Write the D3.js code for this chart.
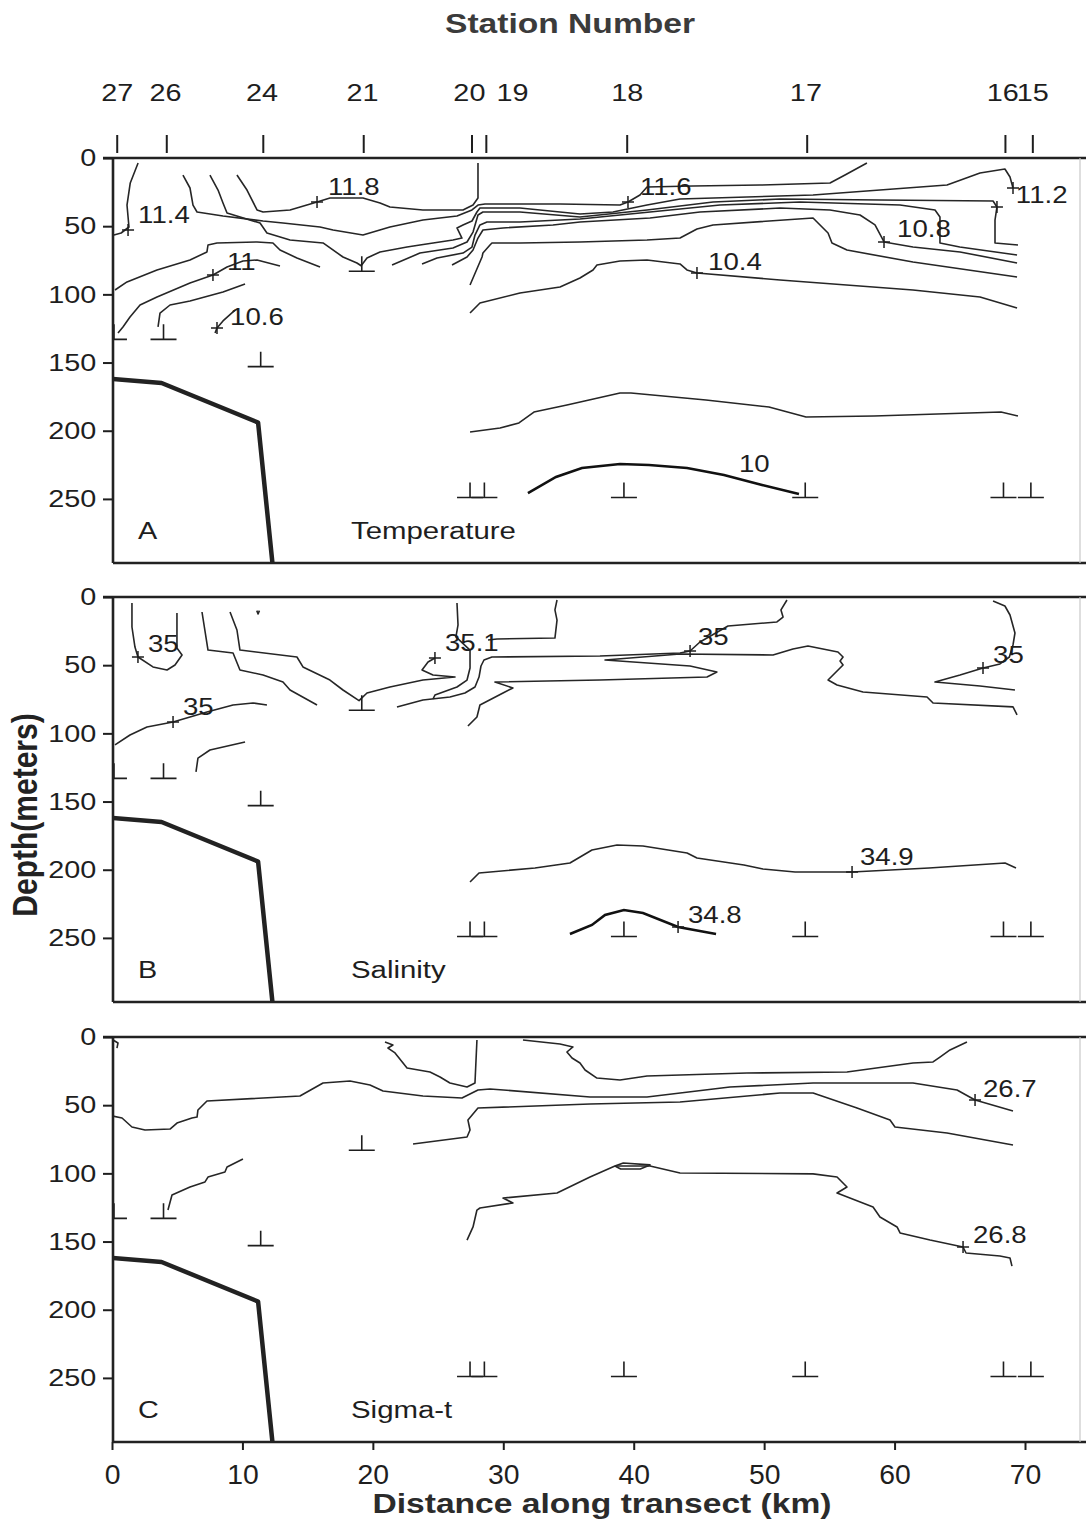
<!DOCTYPE html>
<meta charset="utf-8">

<!-- Load d3.js -->
<script src="https://d3js.org/d3.v7.js"></script>

<style>
  body { margin: 0; background: #fff; }
  text { font-family: "Liberation Sans", Arial, Helvetica, sans-serif; }
</style>

<!-- Create a div where the graph will take place -->
<div id="my_dataviz"></div>

<script>

// stations along the transect
var stationNames   = ["27", "26", "24", "21", "20", "19", "18", "17", "16", "15"];
var stationKm      = [0.15, 3.95, 11.4, 19.15, 27.45, 28.55, 39.25, 53.15, 68.35, 70.45]; // deepest sample
var stationTickKm  = [0.4, 4.2, 11.6, 19.3, 27.6, 28.7, 39.5, 53.3, 68.5, 70.6];          // top ticks
var stationLabelKm = [0.4, 4.1, 11.5, 19.2, 27.4, 30.7, 39.5, 53.2, 68.3, 70.6];
var stationBottom  = [133, 133, 153, 83, 249, 249, 249, 249, 249, 249];

// sea floor (km, depth)
var bathymetry = [[0, 162], [3.8, 165], [11.2, 194], [12.3, 297]];

var depthTicks = [0, 50, 100, 150, 200, 250];
var distTicks  = [0, 10, 20, 30, 40, 50, 60, 70];

// ---- A: temperature contours (km, depth m)
var tempContours = [
  [[2.0,3.7],[1.4,18.3],[1.15,34.5],[1.3,50.6],[0.7,55],[0.15,56.5]],
  [[5.44,12.5],[5.98,22],[6.21,34.5],[6.52,39.6],[8.51,42.5],[11.58,46.2],[13.11,47.7],[15.95,50.6],[16.95,52.8],[19.24,56.5],[21.31,50.6],[23.84,45.5],[26.45,42.5],[27.6,38.1],[28.06,34.5],[28.6,33.7],[31.28,33.7],[34.35,33.7],[38.95,34.5],[39.56,32.3],[40.48,27.1],[41.02,21.3],[44.55,20.5],[49.68,19.8],[55.05,18.3],[56.2,12.5],[57.88,3.7]],
  [[9.58,12.5],[10.35,23.5],[11.12,38.1],[11.58,39.6],[13.65,38.1],[15.72,32.3],[16.71,29.3],[19.24,29.3],[20.55,33],[21.31,35.9],[23.84,38.1],[26.91,38.1],[27.68,34.5],[28.06,29.3],[28.06,3.7]],
  [[7.51,12.5],[8.13,23.5],[8.51,33],[8.82,40.3],[11.35,47.7],[11.88,55],[13.65,60.1],[16.18,62.3],[17.71,72.6],[18.78,77],[19.1,79],[19.55,73.3],[20.55,68.9],[22.62,65.3],[23.61,63.8],[26.14,60.1],[26.83,58.7],[26.45,51.3],[26.91,49.1],[27.6,46.2],[27.98,39.6],[28.21,36.7],[31.28,36.7],[35.88,41.1],[38.41,39.6],[41.02,34.5],[43.55,30.1],[48.68,28.6],[53.75,27.1],[58.88,23.5],[64.02,19.8],[66.55,11],[68.46,8.1],[68.85,13.9],[69.08,22]],
  [[21.47,78.5],[23.61,69.7],[26.14,66],[27.22,61.6],[27.68,54.3],[28.06,41.8],[28.44,39.6],[31.28,39.6],[35.88,43.3],[41.02,38.1],[46.08,32.3],[51.22,30.1],[58.88,30.8],[67.55,31.5],[67.85,35.9],[67.7,45.5],[67.7,62.3],[69.46,63.8]],
  [[23.77,77.7],[24.92,73.3],[26.91,69.7],[27.6,65.3],[27.83,56.5],[28.21,49.1],[28.75,46.9],[31.28,46.9],[35.88,44.7],[41.25,39.6],[46.62,34.5],[52.75,32.3],[60.42,34.5],[63.1,38.1],[63.48,43.3],[63.48,62.3],[65.0,65.3],[69.39,71.1]],
  [[26.07,78.5],[27.22,72.6],[27.68,67.5],[28.06,58.7],[28.44,52.8],[29.98,51.3],[33.81,49.1],[35.88,46.9],[41.25,44],[45.08,39.6],[51.22,36.7],[55.05,38.1],[57.35,41.8],[58.5,49.1],[59.04,58.7],[59.19,61.6],[61.41,65.3],[65.02,68.9],[69.39,77]],
  [[27.45,93.1],[28.37,72.6],[28.44,69.7],[28.98,63.8],[29.13,62.3],[31.28,62.3],[35.88,61.6],[41.02,60.1],[43.55,58.7],[44.85,52.1],[46.08,49.1],[53.75,44],[54.9,55],[55.2,62.3],[56.35,67.5],[61.41,76.3],[69.39,87.3]],
  [[27.45,113.7],[28.21,106.3],[31.28,99],[34.35,94.6],[35.88,88],[36.88,82.1],[37.18,78.5],[38.95,75.5],[41.02,74.8],[43.55,77.7],[44.08,82.1],[44.85,84.3],[51.22,89.5],[61.41,96.8],[66.55,101.9],[69.39,110]],
  [[0.23,96.8],[1.15,90.9],[3.45,82.1],[5.98,74.8],[7.28,68.9],[7.36,63.8],[8.05,62.3],[11.12,61.6],[12.34,62.3],[12.88,67.5],[14.18,73.3],[15.95,79.9]],
  [[0.46,128.3],[0.84,123.9],[1.38,116.6],[2.15,107.8],[3.45,101.9],[5.98,91.7],[7.74,85.8],[8.82,79.9],[10.04,75.5],[11.12,74.8],[12.88,79.2]],
  [[3.53,123.9],[3.68,113.7],[4.45,107.8],[5.98,104.9],[8.51,98.3],[10.2,92.4]],
  [[7.9,128.3],[8.05,124.7],[8.51,119.5],[9.43,111.5]],
  [[27.45,200.9],[29.75,198],[31.2,194.3],[32.35,186.3],[34.88,181.1],[38.95,172.3],[39.79,172.3],[45.54,177.5],[50.37,182.6],[53.21,189.9],[58.42,189.2],[68.16,186.3],[69.46,189.2]]
];
var tempThick = [
  [[31.89,245.7],[34.04,233.9],[36.03,227.3],[38.95,224.4],[41.17,225.1],[44.09,227.3],[46.92,232.5],[49.84,239.8],[52.67,246.4]]
];
var tempLabels = [
  {text: "11.4", km: 2.0, depth: 47.6}, {text: "11.8", km: 16.56, depth: 27.1},
  {text: "11.6", km: 40.48, depth: 27.1}, {text: "11.2", km: 69.3, depth: 33},
  {text: "10.8", km: 60.19, depth: 57.9}, {text: "10.4", km: 45.7, depth: 82.1},
  {text: "11", km: 8.82, depth: 82.1}, {text: "10.6", km: 9.05, depth: 122.5},
  {text: "10", km: 48.07, depth: 230.3}
];
var tempMarks = [[1.23,52.8],[15.72,32.3],[39.56,32.3],[69.08,22],[67.85,35.9],[59.19,61.6],[44.85,84.3],[7.74,85.8],[8.05,124.7]];

// ---- B: salinity contours
var salContours = [
  [[1.53,4.4],[1.53,22],[1.76,36.7],[1.99,44],[3.14,51.3],[4.22,53.5],[4.83,49.9],[5.37,42.5],[4.98,37.4],[4.98,11.7]],
  [[6.9,11],[7.36,38.9],[9.28,41.1],[9.81,53.5],[11.58,57.2],[13.11,62.3],[13.65,68.2],[15.72,79.2]],
  [[9.05,11],[9.58,24.2],[9.81,38.9],[14.18,44],[14.64,51.3],[16.71,60.9],[17.71,68.2],[18.94,76],[19.55,70.4],[21.31,66],[23.84,60.9],[26.3,58.7],[24.61,57.2],[23.77,53.5],[24.23,47.7],[24.76,44.7]],
  [[26.45,4.4],[26.53,20.5],[26.37,29.3],[27.45,38.9],[27.45,52.1],[27.22,60.9],[26.45,66],[24.76,71.9],[24.61,74.8]],
  [[21.85,80.7],[23.84,75.5],[25.91,73.3],[27.06,70.4],[27.83,66],[28.14,58.7],[28.29,50.6],[28.52,46.2],[29.13,44],[37.41,43.3],[43.55,41.1],[44.32,39.6],[45.08,33],[47.23,21.3],[50.98,18.3],[51.45,14.7],[51.29,9.5],[51.75,2.2]],
  [[34.12,2.2],[33.96,9.5],[34.12,16.9],[33.96,30.1],[29.52,30.8],[28.83,31.5]],
  [[27.29,94.6],[27.98,88],[28.21,79.2],[29.98,70.4],[30.74,66.7],[29.36,62.3],[37.41,60.9],[45.62,58.7],[46.38,55],[44.32,50.6],[37.8,46.2],[43.55,41.8],[50.68,42.5],[52.21,38.1],[53.36,35.9],[55.66,40.3],[56.05,44],[55.82,46.9],[56.05,49.9],[54.9,60.9],[55.59,64.5],[57.58,69.7],[62.49,73.3],[62.95,77.7],[69.08,80.6],[69.39,86.5]],
  [[67.55,2.9],[68.46,6.6],[68.85,13.2],[69.23,26.4],[69.08,35.2],[68.8,44],[68.08,49.1],[66.78,52.1],[65.02,57.2],[63.1,62.3],[66.55,65.3],[69.23,68.2]],
  [[0.23,108.5],[1.38,101.2],[2.68,95.3],[4.68,91.7],[7.28,84.3],[9.28,79.2],[10.81,77.7],[11.88,79.2]],
  [[6.44,128.3],[6.59,118.1],[7.51,112.2],[10.2,106.3]],
  [[27.45,209],[28.14,202.4],[32.43,198.7],[35.11,195.1],[36.8,185.5],[38.72,181.9],[40.71,182.6],[44.09,187.7],[44.85,191.4],[48.45,196.5],[49.91,199.5],[52.37,201.7],[56.74,201.7],[62.64,198.7],[68.47,195.1],[69.31,198.7]],
  [[11.1,10],[11.2,12.5],[11.3,10]]
];
var salThick = [
  [[35.11,247.1],[36.8,240.5],[37.8,233.2],[39.25,229.5],[40.71,231.7],[43.4,242],[46.31,247.1]]
];
var salLabels = [
  {text: "35", km: 2.76, depth: 40.3}, {text: "35.1", km: 25.53, depth: 39.6},
  {text: "35", km: 44.93, depth: 35.2}, {text: "35", km: 67.55, depth: 48.4},
  {text: "35", km: 5.44, depth: 86.5}, {text: "34.9", km: 57.35, depth: 196.5},
  {text: "34.8", km: 44.16, depth: 239}
];
var salMarks = [[1.99,44],[24.76,44.7],[44.32,39.6],[66.78,52.1],[4.68,91.7],[56.74,201.7],[43.4,242]];

// ---- C: sigma-t contours
var sigContours = [
  [[0.08,2.2],[0.46,4.4],[0.38,8.1]],
  [[0,57.9],[0.77,59.4],[1.53,66],[2.53,68.2],[4.45,67.5],[4.98,63.1],[6.13,59.4],[6.52,58.7],[6.59,53.5],[7.28,46.9],[14.41,43.3],[16.18,33.7],[18.25,32.3],[19.78,35.2],[20.78,39.6],[23.84,43.3],[26.83,44.7],[28.06,38.9],[28.98,38.1],[36.65,44],[41.02,44],[47.38,36.7],[53.75,33.7],[61.41,33.7],[64.79,38.9],[66.17,46.2],[69.08,54.3]],
  [[23.08,78.5],[27.22,73.3],[27.45,68.2],[27.29,60.9],[28.06,52.1],[36.65,49.1],[43.55,47.7],[51.22,41.1],[53.75,41.1],[57.12,52.1],[59.65,60.9],[60.03,66],[64.02,70.4],[69.08,79.2]],
  [[20.93,3.7],[21.54,5.9],[21.16,8.1],[21.7,11.7],[22.62,22.7],[24.38,25.7],[25.15,29.3],[25.91,33.7],[27.22,36.7],[27.83,33.7],[27.98,2.2]],
  [[31.51,2.2],[34.35,5.1],[35.34,7.3],[34.88,11],[35.27,15.4],[35.88,19.1],[36.27,24.2],[37.18,30.1],[38.95,31.5],[41.02,28.6],[48.68,26.4],[56.35,25.7],[61.41,19.1],[62.95,18.3],[63.48,14.7],[64.25,9.5],[65.55,3.7]],
  [[27.22,148.9],[27.68,139.3],[27.98,126.9],[28.21,125.4],[30.74,121.7],[29.98,118.1],[34.12,114.4],[36.65,102.7],[38.56,94.6],[41.25,94.6],[43.55,99.7],[53.75,100.4],[55.59,102.7],[56.35,110],[55.59,114.4],[58.35,124.7],[58.88,132],[60.19,139.3],[60.42,143.7],[62.72,148.9],[65.25,154],[65.48,158.4],[68.08,160.6],[68.85,162.1],[69,168]],
  [[38.56,94.6],[39.2,92.4],[41.25,93.8],[40.5,96.8],[39.0,96.8],[38.56,94.6]],
  [[4.29,126.9],[4.6,115.9],[5.98,110],[7.13,106.3],[7.36,102.7],[8.66,99],[8.82,95.3],[10.04,89.5]]
];
var sigThick = [];
var sigLabels = [
  {text: "26.7", km: 66.78, depth: 44}, {text: "26.8", km: 66.01, depth: 151.1}
];
var sigMarks = [[66.17,46.2],[65.25,154]];

var panels = [
  {letter: "A", name: "Temperature", lines: tempContours, thick: tempThick, labels: tempLabels, marks: tempMarks},
  {letter: "B", name: "Salinity", lines: salContours, thick: salThick, labels: salLabels, marks: salMarks},
  {letter: "C", name: "Sigma-t", lines: sigContours, thick: sigThick, labels: sigLabels, marks: sigMarks}
];

// set the dimensions of the graph
var width = 1086, height = 1523;
var left = 113, right = 1085;
var panelTops = [158, 597, 1037], panelH = 405;
var ink = "#1e1e1e";

var svg = d3.select("#my_dataviz")
  .append("svg")
    .attr("width", width)
    .attr("height", height);

var x = d3.scaleLinear().domain([0, 74.6]).range([112, 1085]);

// text that is a bit wider than the font, like the scanned figure
function stext(g, px, py, s, o) {
  o = o || {};
  return g.append("text")
    .attr("transform", "translate(" + px + "," + py + ") scale(" + (o.sx || 1.2) + ",1)")
    .attr("text-anchor", o.anchor || "start")
    .attr("font-size", o.size || 24)
    .attr("font-weight", o.weight || "normal")
    .attr("fill", o.fill || ink)
    .text(s);
}

// titles
stext(svg, 570, 33, "Station Number", {anchor: "middle", size: 28, weight: "bold", fill: "#3b3b3b"});
stext(svg, 602, 1513, "Distance along transect (km)", {anchor: "middle", size: 28, weight: "bold", fill: "#2b2b2b"});
svg.append("text")
  .attr("transform", "translate(37,815) rotate(-90) scale(1,1.15)")
  .attr("text-anchor", "middle")
  .attr("font-size", 30)
  .attr("font-weight", "bold")
  .attr("fill", "#222")
  .text("Depth(meters)");

// station ticks and names along the top
stationTickKm.forEach(function(k) {
  svg.append("line")
    .attr("x1", x(k)).attr("x2", x(k))
    .attr("y1", 135).attr("y2", 153)
    .attr("stroke", ink).attr("stroke-width", 2);
});
stationNames.forEach(function(n, i) {
  stext(svg, x(stationLabelKm[i]), 101, n, {anchor: "middle"});
});

panels.forEach(function(p, i) {
  var top = panelTops[i];
  var y = d3.scaleLinear().domain([0, 297]).range([top, top + panelH]);
  var line = d3.line().x(d => x(d[0])).y(d => y(d[1]));

  svg.append("clipPath").attr("id", "clip" + i)
    .append("rect")
      .attr("x", left).attr("y", top)
      .attr("width", right - left).attr("height", panelH);

  var g = svg.append("g").attr("clip-path", "url(#clip" + i + ")");

  // contour lines
  g.selectAll(".contour")
    .data(p.lines)
    .join("path")
      .attr("class", "contour")
      .attr("d", line)
      .attr("fill", "none")
      .attr("stroke", "#262626")
      .attr("stroke-width", 1.6)
      .attr("stroke-linejoin", "round");

  g.selectAll(".thick")
    .data(p.thick)
    .join("path")
      .attr("class", "thick")
      .attr("d", line)
      .attr("fill", "none")
      .attr("stroke", "#111")
      .attr("stroke-width", 2.6);

  // label crosses
  g.selectAll(".mark")
    .data(p.marks)
    .join("path")
      .attr("class", "mark")
      .attr("d", d => "M" + (x(d[0]) - 6) + "," + y(d[1]) + "h12M" + x(d[0]) + "," + (y(d[1]) - 6) + "v12")
      .attr("stroke", ink)
      .attr("stroke-width", 1.5);

  // deepest sample at each station
  g.selectAll(".bottom")
    .data(stationKm)
    .join("path")
      .attr("class", "bottom")
      .attr("d", (k, j) => "M" + (x(k) - 13) + "," + y(stationBottom[j]) + "h26M" + x(k) + "," + y(stationBottom[j]) + "v-15")
      .attr("stroke", ink)
      .attr("stroke-width", 1.6)
      .attr("fill", "none");

  // sea floor
  g.append("path")
    .datum(bathymetry)
    .attr("d", line)
    .attr("fill", "none")
    .attr("stroke", "#222")
    .attr("stroke-width", 4.5)
    .attr("stroke-linejoin", "round");

  // contour values
  p.labels.forEach(function(l) {
    stext(svg, x(l.km), y(l.depth), l.text, {sx: 1.15});
  });

  stext(svg, 138, top + panelH - 24, p.letter);
  stext(svg, 351, top + panelH - 24, p.name, {size: 24.5});

  // frame
  svg.append("line").attr("x1", 103).attr("x2", width).attr("y1", top).attr("y2", top)
    .attr("stroke", "#222").attr("stroke-width", 2.6);
  svg.append("line").attr("x1", left).attr("x2", width).attr("y1", top + panelH).attr("y2", top + panelH)
    .attr("stroke", "#222").attr("stroke-width", 2.6);
  svg.append("line").attr("x1", left).attr("x2", left).attr("y1", top).attr("y2", top + panelH)
    .attr("stroke", "#222").attr("stroke-width", 2.6);
  svg.append("line").attr("x1", 1080).attr("x2", 1080).attr("y1", top).attr("y2", top + panelH)
    .attr("stroke", "#c8c8c8").attr("stroke-width", 1.2);

  // depth axis
  var ya = svg.append("g")
    .attr("transform", "translate(" + left + ",0)")
    .call(d3.axisLeft(y).tickValues(depthTicks).tickSize(10).tickPadding(4));
  ya.select(".domain").remove();
  ya.selectAll("line").attr("stroke", ink).attr("stroke-width", 2);
  ya.selectAll("text")
    .attr("font-size", 24)
    .attr("font-family", "Liberation Sans, Arial, sans-serif")
    .attr("fill", ink)
    .attr("transform", "scale(1.2,1)");

  // distance axis under the last panel
  if (i == panels.length - 1) {
    var xa = svg.append("g")
      .attr("transform", "translate(0," + (top + panelH) + ")")
      .call(d3.axisBottom(x).tickValues(distTicks).tickSize(8).tickPadding(15));
    xa.select(".domain").remove();
    xa.selectAll("line").attr("stroke", ink).attr("stroke-width", 2);
    xa.selectAll("text")
      .attr("font-size", 27)
      .attr("font-family", "Liberation Sans, Arial, sans-serif")
      .attr("fill", ink)
      .attr("transform", "scale(1.05,1)");
  }
});

</script>
